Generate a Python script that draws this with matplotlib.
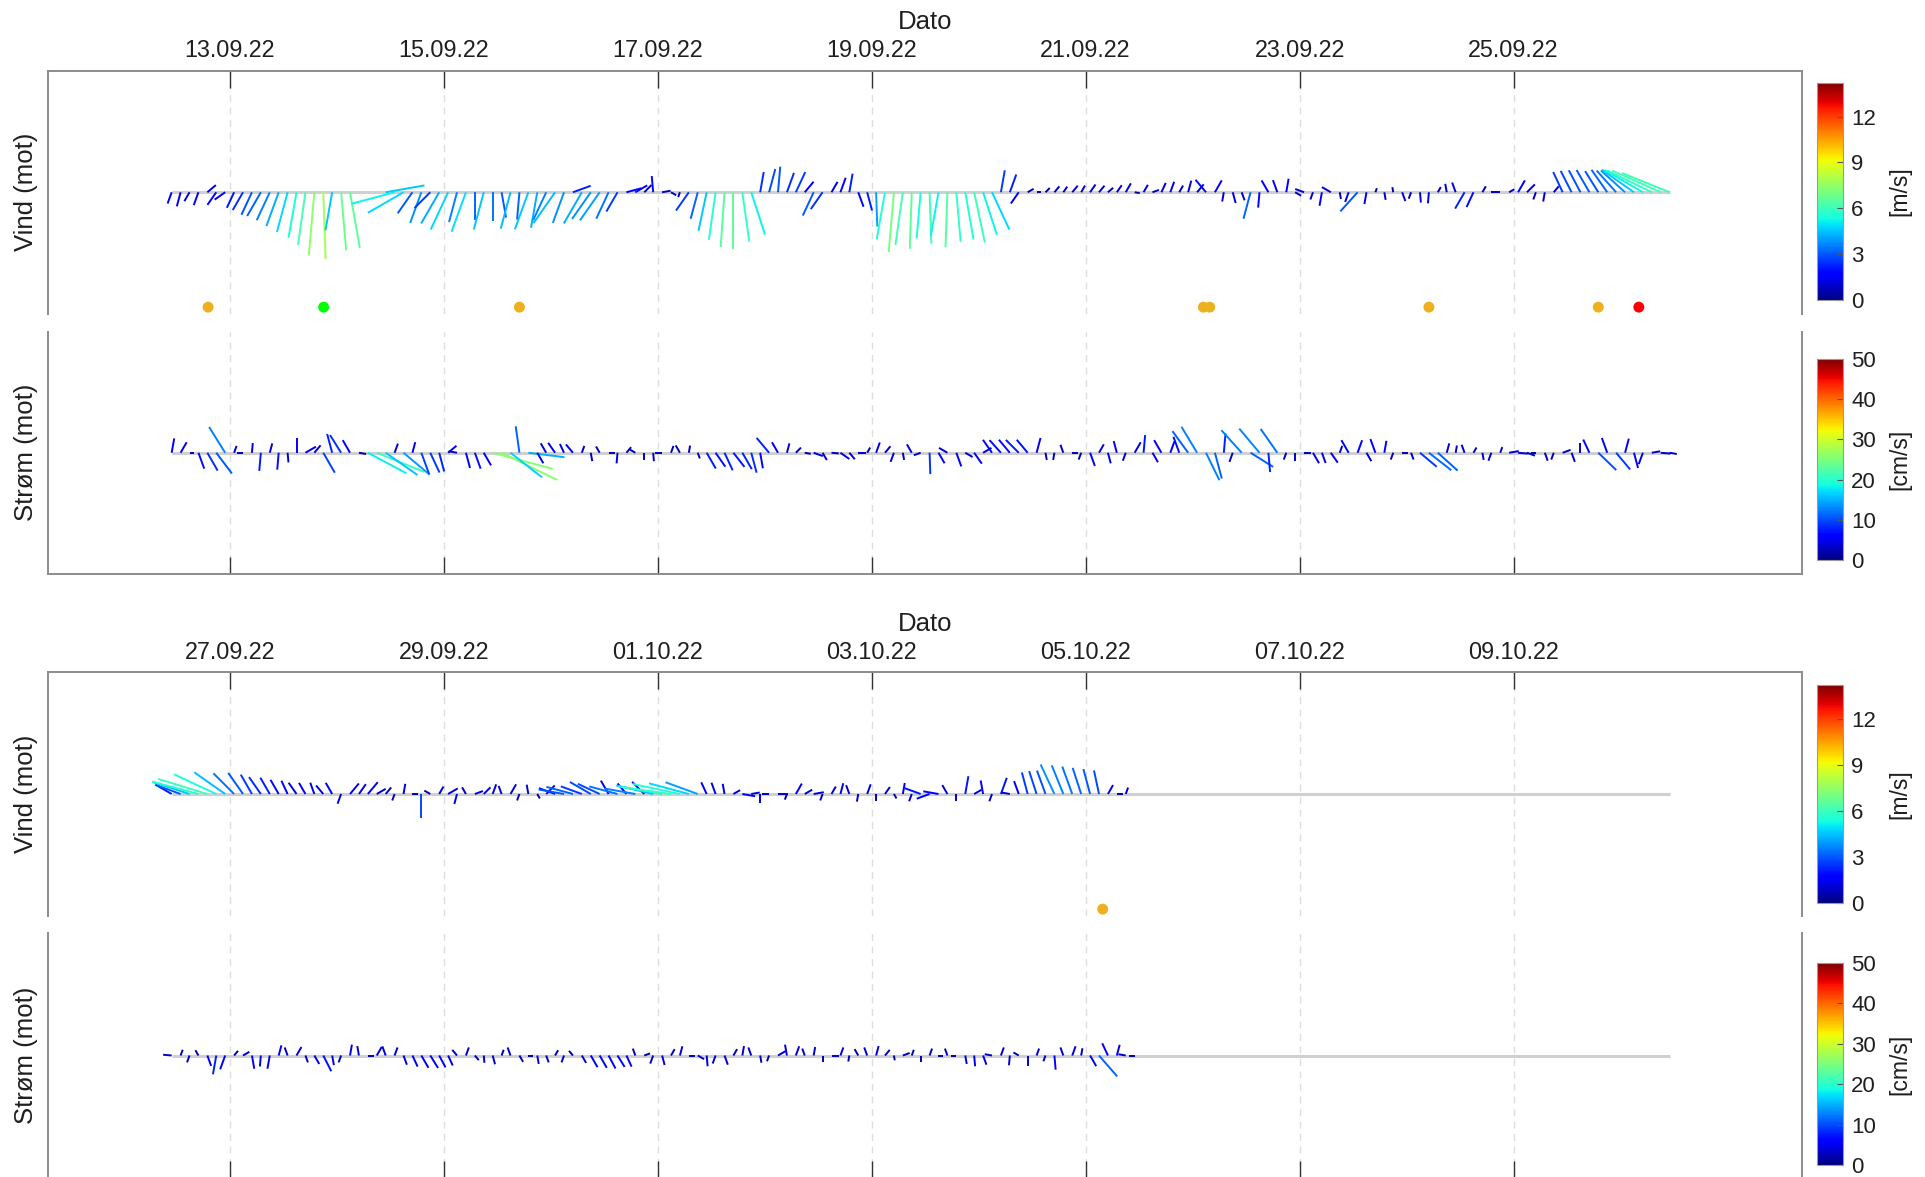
import numpy as np
import pandas as pd
import matplotlib
matplotlib.use("Agg")
import matplotlib.pyplot as plt
import matplotlib.dates as mdates
from matplotlib.collections import LineCollection
from matplotlib.colors import Normalize
from matplotlib.cm import ScalarMappable

plt.rcParams['font.family'] = ['Liberation Sans', 'DejaVu Sans']

nan = np.nan

# ---------------------------------------------------------------------------
# Observation windows (14 days each), 2-hourly samples
# ---------------------------------------------------------------------------
window_starts = ["2022-09-12 11:00", "2022-09-26 11:00"]
window_days = 14

# Wind (m/s) and direction towards (deg, clockwise from north), window 1
wind1_speed = [
    1.4, 1.7, 1.2, 1.6, 1.3, 1.8, 1.5, 2.0, 2.4, 2.9, 3.2, 3.6,
    4.2, 4.8, 5.4, 6.2, 7.4, 7.8, 4.5, 6.8, 6.6, nan, nan, nan,
    4.6, 5.2, 4.8, 3.0, 3.8, 2.6, 4.2, 4.8, 3.6, 4.9, 3.2, 4.5,
    3.4, 3.0, 4.4, 3.2, 4.6, 4.2, 3.6, 4.4, 3.8, 2.2, 4.2, 3.8,
    4.0, 3.4, 2.6, 1.8, 1.6, 1.2, 1.9, 1.0, 0.7, 0.6, 2.6, 3.2,
    4.6, 5.6, 6.4, 6.6, 5.8, 5.2, 2.4, 2.8, 3.0, 2.4, 2.6, 1.6,
    3.0, 2.4, 1.4, 1.8, 2.2, 1.8, 2.2, 4.0, 5.6, 7.0, 6.2, 6.6,
    5.4, 6.0, 5.2, 6.4, 5.8, 5.6, 6.0, 5.2, 4.8, 2.6, 2.2, 1.6,
    0.8, 0.5, 0.7, 0.9, 0.8, 1.0, 0.9, 1.1, 1.0, 0.8, 1.0, 1.2,
    0.6, 1.0, 0.8, 1.2, 1.3, 0.9, 1.4, 1.2, 1.9, 1.6, 1.1, 1.3,
    1.0, 3.2, 1.8, 1.6, 1.5, 1.6, 0.8, 1.1, 0.9, 1.6, 1.2, 0.8,
    1.2, 3.0, 1.4, 0.5, 0.9, 0.6, 1.1, 0.8, 1.2, 1.3, 0.7, 1.0,
    1.2, 2.2, 1.9, 0.8, 0.6, 1.0, 0.7, 1.6, 1.3, 0.9, 1.1, 0.9,
    2.6, 2.8, 2.9, 3.0, 2.9, 3.2, 3.4, 3.8, 4.6, 5.2, 5.8, 6.2,
    6.0,
]
wind1_dir = [
    200, 195, 210, 200, 50, 215, 235, 205, 210, 205, 210, 205,
    200, 195, 190, 188, 185, 178, 190, 175, 170, nan, nan, nan,
    80, 255, 240, 215, 200, 225, 210, 205, 195, 200, 180, 195,
    180, 170, 195, 185, 200, 190, 205, 215, 200, 70, 210, 215,
    215, 205, 210, 75, 60, 45, 355, 80, 120, 200, 215, 195,
    192, 188, 184, 180, 172, 162, 10, 15, 5, 20, 25, 40,
    205, 215, 30, 20, 10, 160, 165, 178, 190, 185, 188, 182,
    185, 178, 190, 182, 175, 170, 168, 162, 155, 10, 20, 215,
    60, 90, 45, 40, 35, 40, 30, 35, 40, 50, 35, 30,
    100, 30, 70, 25, 20, 30, 15, 40, 320, 30, 190, 165,
    160, 195, 185, 330, 340, 10, 120, 290, 200, 190, 300, 170,
    200, 222, 190, 20, 170, 350, 160, 200, 175, 185, 30, 350,
    340, 210, 205, 30, 90, 270, 60, 30, 45, 200, 190, 40,
    335, 333, 332, 330, 328, 325, 318, 312, 305, 300, 296, 294,
    292,
]

# Current (cm/s) and direction towards (deg), window 1
cur1_speed = [
    6.0, 5.0, 2.0, 7.0, 8.5, 10.7, 12.5, 3.0, 2.5, 4.0, 7.5, 4.0,
    7.0, 4.0, 6.0, 5.0, 4.0, 9.5, 8.0, 8.6, 6.0, 3.0, 18.0, 21.0,
    16.0, 4.0, 14.0, 4.5, 9.5, 9.0, 8.0, 4.5, 3.5, 6.5, 7.0, 6.0,
    25.7, 25.6, 16.5, 11.0, 15.0, 5.0, 4.5, 5.0, 4.0, 4.5, 3.0, 3.5,
    3.0, 2.5, 4.4, 3.0, 2.5, 3.0, 3.5, 2.8, 3.0, 3.5, 3.0, 2.5,
    7.5, 7.0, 8.0, 7.4, 7.8, 8.5, 6.5, 8.0, 5.0, 4.0, 3.0, 2.5,
    4.0, 3.5, 3.0, 4.5, 3.5, 3.0, 2.5, 4.5, 3.5, 4.0, 3.0, 4.0,
    3.0, 8.8, 5.0, 4.0, 6.0, 3.5, 5.5, 4.0, 6.5, 7.0, 7.0, 7.5,
    7.0, 6.3, 3.0, 3.0, 3.5, 2.5, 3.0, 5.8, 4.0, 4.5, 5.0, 3.5,
    5.0, 7.3, 4.5, 6.0, 5.0, 7.0, 11.0, 12.5, 12.6, 11.0, 8.0, 4.0,
    12.5, 11.0, 13.0, 8.0, 12.0, 3.0, 3.5, 3.0, 5.0, 4.5, 5.0, 3.0,
    6.0, 5.5, 4.0, 6.0, 5.0, 3.0, 2.5, 3.0, 9.0, 11.7, 11.0, 4.0,
    3.0, 3.5, 2.5, 3.0, 3.5, 2.5, 4.0, 4.0, 3.5, 2.0, 3.5, 3.0,
    3.5, 4.0, 4.0, 6.0, 10.3, 6.5, 9.0, 6.0, 6.5, 5.0, 3.5, 4.0,
    3.0,
]
cur1_dir = [
    10, 30, 90, 160, 150, 143, 328, 20, 270, 5, 185, 15,
    185, 175, 0, 60, 40, 150, 345, 328, 330, 100, 118, 112,
    125, 20, 130, 15, 160, 155, 165, 50, 280, 165, 160, 150,
    105, 116, 128, 352, 97, 150, 330, 325, 335, 320, 20, 170,
    330, 90, 185, 40, 300, 180, 175, 270, 20, 330, 10, 160,
    150, 145, 155, 142, 150, 165, 170, 320, 330, 15, 45, 100,
    110, 150, 95, 125, 140, 90, 30, 20, 40, 200, 170, 330,
    250, 178, 150, 300, 160, 120, 145, 60, 325, 318, 320, 315,
    320, 15, 170, 190, 340, 90, 200, 160, 30, 165, 345, 200,
    30, 5, 150, 330, 20, 340, 324, 329, 154, 165, 5, 200,
    318, 122, 320, 175, 325, 200, 180, 90, 150, 160, 145, 20,
    330, 20, 150, 340, 10, 200, 90, 160, 130, 128, 132, 15,
    10, 340, 30, 170, 200, 20, 80, 95, 110, 270, 160, 200,
    70, 160, 0, 335, 134, 340, 140, 15, 165, 200, 80, 95,
    100,
]

# Wind, window 2
wind2_speed = [
    2.2, 3.0, 4.5, 5.6, 6.0, 5.4, 4.4, 3.4, 3.0, 2.6, 2.4, 2.2,
    1.9, 1.7, 1.6, 1.5, 1.4, 1.3, 1.5, 1.2, 1.6, 1.4, 1.8, 1.2,
    1.0, 0.8, 1.2, 0.7, 2.8, 0.8, 1.0, 1.3, 1.2, 0.9, 1.0, 1.1,
    1.2, 1.0, 1.3, 0.8, 1.1, 0.6, 1.4, 2.0, 3.0, 3.2, 2.6, 2.8,
    2.8, 1.8, 3.4, 1.6, 3.6, 2.0, 4.4, 5.2, 5.8, 5.6, 4.8, 4.0,
    1.5, 1.4, 1.2, 0.9, 1.5, 1.0, 1.0, 0.8, 1.2, 0.7, 1.4, 1.0,
    1.2, 0.8, 1.0, 1.3, 1.1, 0.9, 1.2, 0.8, 1.0, 0.6, 1.3, 0.9,
    2.0, 1.6, 1.8, 1.2, 0.8, 2.1, 1.0, 1.6, 0.9, 2.0, 1.0, 1.6,
    2.6, 2.8, 2.9, 3.8, 3.6, 3.4, 3.2, 3.0, 2.8, 1.2, 0.7, 0.8,
]
wind2_dir = [
    300, 290, 288, 285, 287, 295, 305, 315, 325, 330, 325, 330,
    330, 335, 325, 330, 340, 320, 330, 200, 40, 35, 40, 60,
    40, 200, 10, 90, 180, 300, 30, 60, 195, 330, 70, 45,
    20, 340, 30, 200, 350, 150, 45, 290, 280, 285, 290, 300,
    295, 330, 285, 320, 280, 315, 283, 280, 278, 282, 285, 290,
    335, 340, 350, 60, 100, 80, 180, 270, 90, 200, 30, 60,
    80, 200, 30, 15, 340, 190, 20, 180, 35, 150, 10, 200,
    290, 250, 280, 330, 180, 10, 60, 350, 200, 20, 280, 340,
    345, 342, 340, 335, 338, 340, 342, 345, 348, 30, 90, 20,
]

# Current, window 2
cur2_speed = [
    3.5, 2.5, 3.0, 2.5, 4.5, 7.8, 6.0, 2.5, 3.0, 5.5, 4.5, 5.5,
    4.3, 3.5, 4.0, 3.0, 4.0, 7.2, 4.0, 3.0, 4.5, 3.9, 2.5, 4.0,
    4.0, 3.5, 4.0, 5.0, 5.8, 6.0, 5.5, 4.5, 3.0, 3.5, 2.5, 3.0,
    3.7, 2.5, 3.5, 3.0, 2.0, 3.5, 3.0, 2.5, 3.0, 2.5, 3.5, 5.5,
    5.8, 6.0, 5.5, 5.0, 3.0, 2.5, 3.5, 4.0, 3.0, 3.9, 2.5, 3.0,
    4.4, 3.5, 4.0, 3.0, 3.9, 3.5, 3.0, 2.5, 3.5, 4.5, 4.0, 3.0,
    3.5, 2.5, 3.0, 3.5, 2.5, 3.0, 3.5, 4.0, 3.0, 2.0, 3.0, 2.5,
    2.5, 3.0, 2.0, 3.0, 2.0, 3.5, 4.4, 4.0, 3.0, 3.5, 4.0, 2.5,
    4.4, 3.0, 2.5, 5.8, 3.5, 4.0, 3.0, 5.0, 11.3, 5.5, 4.5, 3.0,
    2.5,
]
cur2_dir = [
    275, 20, 200, 330, 160, 190, 200, 40, 60, 170, 185, 190,
    15, 340, 30, 160, 150, 153, 170, 200, 10, 350, 90, 30,
    340, 20, 160, 155, 150, 148, 152, 155, 320, 20, 140, 175,
    165, 20, 340, 150, 90, 170, 160, 30, 200, 320, 150, 150,
    150, 152, 148, 155, 340, 70, 200, 165, 30, 15, 90, 120,
    175, 200, 160, 30, 10, 340, 170, 200, 60, 350, 20, 340,
    10, 180, 90, 20, 190, 330, 340, 15, 40, 170, 70, 20,
    180, 20, 90, 340, 270, 170, 175, 160, 280, 20, 185, 300,
    180, 20, 200, 175, 340, 20, 10, 150, 139, 335, 15, 280,
    270,
]

# Event markers shown under the wind sticks
event1_times = ["2022-09-12 19:10", "2022-09-13 21:05", "2022-09-15 17:00",
                "2022-09-22 02:25", "2022-09-22 03:50", "2022-09-24 05:00",
                "2022-09-25 19:00", "2022-09-26 04:05"]
event1_colors = ["#EDB120", "#00FF00", "#EDB120", "#EDB120", "#EDB120",
                 "#EDB120", "#EDB120", "#FF0000"]
event2_times = ["2022-10-05 03:50"]
event2_colors = ["#EDB120"]
event_level = -13.4

tick_fmt = "%d.%m.%y"
wind_lim = 14.2
cur_lim = 50.0
wind_cticks = [0, 3, 6, 9, 12]
cur_cticks = [0, 10, 20, 30, 40, 50]

# ---------------------------------------------------------------------------
W, H = 1925, 1177
fig = plt.figure(figsize=(W / 100, H / 100), dpi=100)
cmap = plt.get_cmap("jet")
TXT = "#1f1f1f"
SPINE = "#8c8c8c"


def px_axes(x0, y0, x1, y1):
    return fig.add_axes([x0 / W, 1 - y1 / H, (x1 - x0) / W, (y1 - y0) / H])


def draw_sticks(ax, times, speed, direction, ylim, norm):
    x = mdates.date2num(times)
    s = np.asarray(speed, float)
    d = np.radians(np.asarray(direction, float))
    ok = np.isfinite(s) & np.isfinite(d)
    u = s * np.sin(d)
    v = s * np.cos(d)
    bb = ax.get_position()
    x0, x1 = ax.get_xlim()
    px_day = bb.width * W / (x1 - x0)
    px_unit = bb.height * H / (2 * ylim)
    k = px_unit / px_day
    segs = [[(xi, 0.0), (xi + ui * k, vi)]
            for xi, ui, vi, o in zip(x, u, v, ok) if o]
    lc = LineCollection(segs, cmap=cmap, norm=norm, linewidths=1.4,
                        zorder=3, capstyle="butt")
    lc.set_array(s[ok])
    ax.add_collection(lc)


def style_axes(ax, start, ylim, kind, ticks, ylabel):
    ax.set_xlim(mdates.date2num(start - pd.Timedelta(days=1.156)),
                mdates.date2num(start + pd.Timedelta(days=15.237)))
    ax.set_ylim(-ylim, ylim)
    ax.set_yticks([])
    ax.set_xticks(mdates.date2num(ticks))
    ax.xaxis.set_major_formatter(mdates.DateFormatter(tick_fmt))
    ax.grid(axis="x", linestyle=(0, (5, 4)), color="#dedede", linewidth=1.0)
    ax.set_axisbelow(True)
    for sp in ax.spines.values():
        sp.set_color(SPINE)
        sp.set_linewidth(1.4)
    if kind == "wind":
        ax.spines["bottom"].set_visible(False)
        ax.tick_params(axis="x", top=True, bottom=False, labeltop=True,
                       labelbottom=False, direction="in", length=12.5,
                       width=1.0, color="#333333", labelsize=16.8,
                       labelcolor=TXT, pad=6)
        ax.xaxis.set_label_position("top")
        ax.set_xlabel("Dato", fontsize=18.5, color=TXT, labelpad=7)
    else:
        ax.spines["top"].set_visible(False)
        ax.tick_params(axis="x", top=False, bottom=True, labeltop=False,
                       labelbottom=False, direction="in", length=12.5,
                       width=1.0, color="#333333")
    ax.set_ylabel(ylabel, fontsize=18.5, color=TXT, labelpad=7)
    end = start + pd.Timedelta(days=window_days)
    ax.plot(mdates.date2num([start, end]), [0, 0], color="#d0d0d0",
            linewidth=2.2, zorder=2, solid_capstyle="butt")


def add_cbar(rect, vmax, ticks, label):
    cax = px_axes(*rect)
    sm = ScalarMappable(norm=Normalize(0, vmax), cmap=cmap)
    cb = fig.colorbar(sm, cax=cax)
    cb.set_ticks(ticks)
    cb.ax.tick_params(labelsize=16, labelcolor=TXT, direction="in",
                      length=4, width=0.8, color="#555555", pad=6)
    cb.outline.set_edgecolor("#9a9a9a")
    cb.outline.set_linewidth(0.8)
    cb.set_label(label, fontsize=16.5, color=TXT, labelpad=9)


wind_norm = Normalize(0, wind_lim)
cur_norm = Normalize(0, cur_lim)

groups = [
    dict(start=window_starts[0], wind=(wind1_speed, wind1_dir),
         cur=(cur1_speed, cur1_dir), ev=(event1_times, event1_colors),
         wind_px=(48, 70.5, 1802, 314), cur_px=(48, 331.5, 1802, 574),
         wcb=(1817, 83, 1843, 300), ccb=(1817, 359, 1843, 560)),
    dict(start=window_starts[1], wind=(wind2_speed, wind2_dir),
         cur=(cur2_speed, cur2_dir), ev=(event2_times, event2_colors),
         wind_px=(48, 672, 1802, 916), cur_px=(48, 933, 1802, 1178),
         wcb=(1817, 685, 1843, 903), ccb=(1817, 963, 1843, 1165)),
]

for g in groups:
    start = pd.Timestamp(g["start"])
    ticks = pd.date_range(start.normalize() + pd.Timedelta(days=1),
                          periods=7, freq="2D").to_pydatetime()

    axw = px_axes(*g["wind_px"])
    style_axes(axw, start, wind_lim, "wind", ticks, "Vind (mot)")
    ws, wd = g["wind"]
    tw = pd.date_range(start, periods=len(ws), freq="2h").to_pydatetime()
    draw_sticks(axw, tw, ws, wd, wind_lim, wind_norm)
    et, ec = g["ev"]
    axw.scatter(mdates.date2num(pd.to_datetime(et).to_pydatetime()),
                [event_level] * len(et), s=62, c=ec, edgecolors="none",
                zorder=4)

    axc = px_axes(*g["cur_px"])
    style_axes(axc, start, cur_lim, "cur", ticks, "Strøm (mot)")
    cs, cd = g["cur"]
    tc = pd.date_range(start, periods=len(cs), freq="2h").to_pydatetime()
    draw_sticks(axc, tc, cs, cd, cur_lim, cur_norm)

    add_cbar(g["wcb"], wind_lim, wind_cticks, "[m/s]")
    add_cbar(g["ccb"], cur_lim, cur_cticks, "[cm/s]")

fig.savefig("out.png", dpi=100, facecolor="white")
